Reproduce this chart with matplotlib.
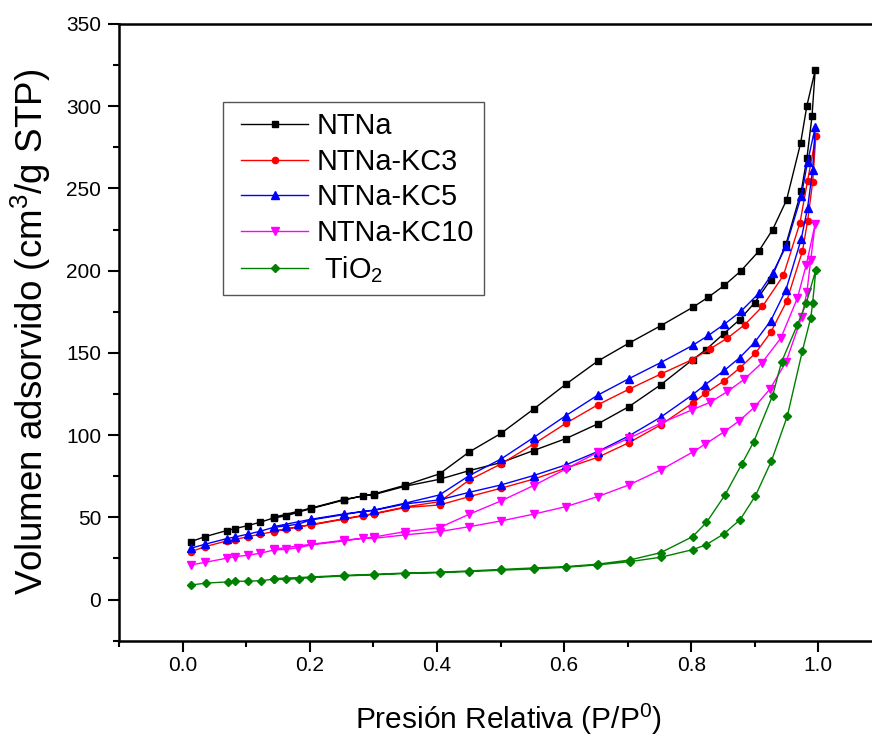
import matplotlib
matplotlib.use("Agg")
import matplotlib.pyplot as plt
from matplotlib.ticker import MultipleLocator
from matplotlib.legend_handler import HandlerLine2D
from matplotlib.lines import Line2D

plt.rcParams["font.family"] = ["Liberation Sans", "DejaVu Sans"]
plt.rcParams["mathtext.fontset"] = "custom"
plt.rcParams["mathtext.rm"] = "Liberation Sans"
plt.rcParams["mathtext.it"] = "Liberation Sans:italic"
plt.rcParams["mathtext.default"] = "regular"

# ---- N2 isotherms: adsorption (p_ads, v_ads) and desorption (p_des, v_des) ----
labels = ["NTNa", "NTNa-KC3", "NTNa-KC5", "NTNa-KC10", " TiO$_2$"]
colors = ["#000000", "#FF0000", "#0000FF", "#FF00FF", "#008000"]
markers = ["s", "o", "^", "v", "D"]

p_low = [0.013, 0.035, 0.069, 0.082, 0.102, 0.122, 0.143, 0.162, 0.182, 0.202,
         0.253, 0.283, 0.301, 0.350, 0.404, 0.451, 0.501, 0.552, 0.603, 0.653,
         0.702, 0.752, 0.802]
p_des_low = [0.752, 0.702, 0.653, 0.603, 0.552, 0.501, 0.451, 0.404, 0.350,
             0.301, 0.253, 0.202, 0.143]

# NTNa
ntna_p_ads = p_low + [0.823, 0.851, 0.876, 0.900, 0.925, 0.949, 0.973, 0.982, 0.990, 0.995]
ntna_v_ads = [35.2, 38.2, 41.9, 43.1, 44.9, 47.0, 49.6, 50.8, 53.1, 55.3,
              60.4, 63.0, 63.8, 68.9, 73.1, 78.4, 83.3, 90.6, 97.9, 106.8,
              117.3, 130.6, 145.8, 151.9, 161.6, 170.1, 180.6, 194.5, 216.0,
              248.2, 268.5, 293.9, 321.9]
ntna_p_des = [0.982, 0.972, 0.950, 0.928, 0.906, 0.878, 0.852, 0.827, 0.802] + p_des_low
ntna_v_des = [300.4, 277.4, 243.0, 224.9, 211.7, 199.8, 191.0, 183.9, 177.6,
              166.5, 155.9, 145.0, 131.0, 115.8, 101.1, 89.8, 76.4, 69.5,
              64.2, 60.8, 55.6, 50.0]

# NTNa-KC3
kc3_p_ads = p_low + [0.822, 0.852, 0.876, 0.901, 0.925, 0.950, 0.975, 0.983, 0.991, 0.996]
kc3_v_ads = [29.1, 32.1, 35.6, 36.4, 38.2, 39.7, 41.3, 42.7, 44.3, 45.3,
             48.8, 50.8, 52.0, 55.9, 57.5, 62.6, 67.7, 73.2, 79.9, 86.5,
             95.4, 106.2, 119.4, 125.3, 133.0, 140.7, 149.8, 162.4, 181.3,
             211.9, 230.0, 253.9, 281.7]
kc3_p_des = [0.983, 0.971, 0.945, 0.912, 0.884, 0.857, 0.830, 0.801] + p_des_low
kc3_v_des = [254.7, 229.0, 197.1, 178.2, 167.1, 159.0, 152.5, 145.8,
             137.1, 127.9, 118.4, 107.2, 94.5, 82.5, 72.7, 59.5, 56.3,
             52.3, 49.1, 45.6, 41.6]

# NTNa-KC5
kc5_p_ads = p_low + [0.822, 0.852, 0.876, 0.900, 0.925, 0.949, 0.973, 0.983, 0.991, 0.995]
kc5_v_ads = [31.2, 33.6, 37.0, 38.0, 39.7, 41.5, 43.9, 44.7, 45.9, 48.4,
             51.6, 53.5, 54.2, 58.1, 60.6, 65.2, 69.7, 75.4, 81.9, 90.0,
             99.5, 110.9, 124.5, 130.7, 139.3, 147.0, 156.5, 169.5, 188.4,
             219.2, 238.1, 261.4, 287.2]
kc5_p_des = [0.983, 0.973, 0.949, 0.928, 0.907, 0.878, 0.852, 0.827, 0.802] + p_des_low
kc5_v_des = [266.1, 245.2, 214.7, 198.5, 186.5, 175.2, 167.4, 160.6, 154.5,
             144.1, 134.3, 124.3, 111.9, 98.5, 85.5, 75.4, 63.6, 58.6,
             54.4, 52.0, 48.8, 44.3]

# NTNa-KC10
kc10_p_ads = p_low + [0.822, 0.851, 0.875, 0.899, 0.924, 0.949, 0.974, 0.982, 0.988, 0.995]
kc10_v_ads = [21.0, 22.6, 25.1, 26.0, 26.9, 28.1, 30.1, 30.5, 31.5, 33.2,
              35.6, 37.2, 37.2, 39.3, 41.3, 44.3, 47.8, 51.9, 56.5, 62.6,
              69.7, 78.8, 89.6, 94.5, 101.8, 108.5, 116.8, 128.1, 144.4,
              172.1, 187.0, 206.6, 228.5]
kc10_p_des = [0.981, 0.967, 0.941, 0.911, 0.883, 0.857, 0.830, 0.801] + p_des_low
kc10_v_des = [203.6, 183.3, 159.0, 143.8, 133.8, 126.5, 120.0, 115.3,
              107.2, 98.1, 89.6, 79.4, 69.3, 60.0, 51.9, 43.7, 41.3,
              38.0, 36.0, 33.6, 30.6]

# TiO2
tio2_p_ads = [0.013, 0.037, 0.071, 0.083, 0.103, 0.123, 0.143, 0.163, 0.183, 0.202,
              0.253, 0.301, 0.350, 0.404, 0.451, 0.501, 0.552, 0.603, 0.651,
              0.703, 0.752, 0.802, 0.823, 0.851, 0.877, 0.901, 0.926, 0.951,
              0.975, 0.988, 0.991, 0.996]
tio2_v_ads = [8.8, 10.0, 10.7, 11.1, 11.1, 11.5, 12.3, 12.3, 12.7, 13.3,
              14.3, 15.0, 15.8, 16.3, 17.0, 17.8, 18.6, 19.6, 21.0,
              23.0, 25.7, 30.3, 33.2, 39.8, 48.6, 63.1, 84.1, 111.3,
              151.4, 171.3, 180.3, 200.5]
tio2_p_des = [0.981, 0.967, 0.942, 0.928, 0.898, 0.880, 0.853, 0.824, 0.802,
              0.752, 0.703, 0.653, 0.603, 0.552, 0.501, 0.451, 0.404, 0.350,
              0.301, 0.253, 0.202, 0.143]
tio2_v_des = [180.3, 167.1, 144.4, 124.0, 95.7, 82.7, 63.5, 46.9, 38.2,
              28.5, 24.0, 21.5, 20.0, 19.2, 18.3, 17.4, 16.6, 16.1,
              15.3, 14.7, 13.7, 12.7]

series = [
    (ntna_p_ads, ntna_v_ads, ntna_p_des, ntna_v_des),
    (kc3_p_ads, kc3_v_ads, kc3_p_des, kc3_v_des),
    (kc5_p_ads, kc5_v_ads, kc5_p_des, kc5_v_des),
    (kc10_p_ads, kc10_v_ads, kc10_p_des, kc10_v_des),
    (tio2_p_ads, tio2_v_ads, tio2_p_des, tio2_v_des),
]
marker_sizes = [4.0, 4.5, 5.5, 5.5, 4.5]

fig = plt.figure(figsize=(8.72, 7.36), dpi=100)
ax = fig.add_axes([0.1366, 0.1296, 0.8748, 0.8378])

for (pa, va, pd_, vd), lab, c, m, ms in zip(series, labels, colors, markers, marker_sizes):
    ax.plot(pa + pd_, va + vd, color=c, marker=m, markersize=ms,
            linewidth=1.0, label=lab)

ax.set_xlim(-0.1, 1.1)
ax.set_ylim(-25, 350)
ax.xaxis.set_minor_locator(MultipleLocator(0.1))
ax.yaxis.set_major_locator(MultipleLocator(50))
ax.yaxis.set_minor_locator(MultipleLocator(25))
ax.set_xticks([0.0, 0.2, 0.4, 0.6, 0.8, 1.0])
ax.set_xticklabels(["0.0", "0.2", "0.4", "0.6", "0.8", "1.0"])

ax.tick_params(which="major", direction="out", length=8, width=1.5,
               labelsize=15, top=False, right=False)
ax.tick_params(axis="x", which="major", pad=3)
ax.tick_params(axis="y", which="major", pad=5)
ax.tick_params(which="minor", direction="out", length=4.5, width=1.5,
               top=False, right=False)
for side in ["left", "bottom", "top", "right"]:
    ax.spines[side].set_linewidth(1.8)

ax.set_xlabel("Presión Relativa (P/P$^0$)", fontsize=21.5)
ax.xaxis.set_label_coords(0.51, -0.099)
ax.set_ylabel("Volumen adsorvido (cm$^3$/g STP)", fontsize=26.5, labelpad=9)

legend_fs = 20.8
shift = 8 / (legend_fs * 100 / 72)
leg = ax.legend(loc="upper left", bbox_to_anchor=(0.1365, 0.8735),
                borderaxespad=0, fontsize=legend_fs, frameon=True, fancybox=False,
                edgecolor="#555555", framealpha=1, numpoints=1,
                handlelength=2.3 + shift, handletextpad=0.3, labelspacing=0.26,
                borderpad=0.35,
                handler_map={Line2D: HandlerLine2D(numpoints=1, xpad=shift)})
leg.get_frame().set_linewidth(1.0)

fig.savefig("out.png", dpi=100)
